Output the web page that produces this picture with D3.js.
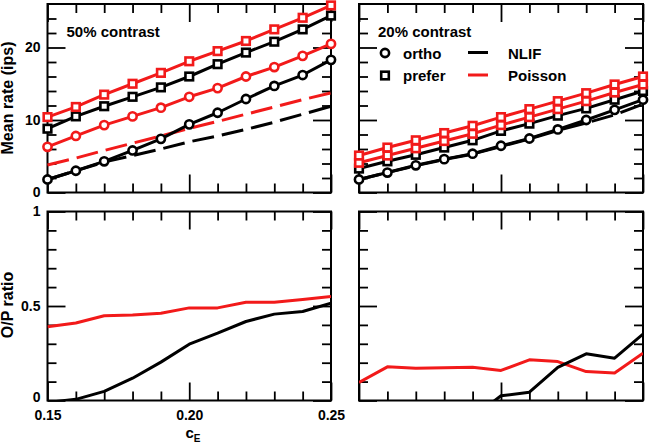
<!DOCTYPE html>
<html><head><meta charset="utf-8">
<script src="https://cdn.jsdelivr.net/npm/d3@7"></script>
<style>
html,body{margin:0;padding:0;background:#fff;}
svg{display:block;font-family:"Liberation Sans",Arial,Helvetica,sans-serif;font-weight:bold;}
</style></head>
<body><svg id="chart" width="649" height="444"></svg>
<script>
// ---------------- data ----------------
const cE = [0.15, 0.16, 0.17, 0.18, 0.19, 0.20, 0.21, 0.22, 0.23, 0.24, 0.25];

// 50% contrast, mean rate (ips)
const nlifOrtho50  = [1.8, 3.0, 4.3, 5.8, 7.4, 9.4, 11.0, 12.9, 14.7, 16.2, 18.3];
const nlifPrefer50 = [8.8, 10.5, 11.9, 13.2, 14.5, 16.0, 17.7, 19.3, 20.8, 22.5, 24.4];
const poisOrtho50  = [6.3, 7.8, 9.3, 10.5, 11.7, 13.2, 14.4, 16.0, 17.3, 18.85, 20.5];
const poisPrefer50 = [10.4, 11.8, 13.5, 15.0, 16.5, 18.1, 19.5, 20.9, 22.5, 24.1, 25.8];
const nlifDash50   = [1.8, 3.0, 4.2, 5.1, 6.0, 7.0, 7.8, 8.7, 9.7, 10.8, 11.9];
const poisDash50   = [3.8, 4.75, 5.8, 6.8, 7.8, 8.85, 9.8, 10.8, 11.8, 12.8, 13.75];

// 20% contrast, mean rate (ips)
const nlifOrtho20  = [1.8, 2.75, 3.75, 4.6, 5.35, 6.45, 7.45, 8.7, 10.0, 11.4, 12.8];
const nlifPrefer20 = [3.3, 4.3, 5.2, 6.2, 7.2, 8.5, 9.5, 10.6, 11.6, 12.8, 14.0];
const poisOrtho20  = [4.1, 5.1, 6.1, 7.1, 8.1, 9.3, 10.4, 11.5, 12.6, 13.8, 14.9];
const poisPrefer20 = [5.1, 6.2, 7.2, 8.2, 9.2, 10.4, 11.5, 12.6, 13.7, 14.9, 16.0];
const nlifDash20   = [1.8, 2.75, 3.7, 4.55, 5.3, 6.35, 7.4, 8.55, 9.6, 10.7, 12.2];

// O/P ratio
const ratioPois50 = [0.39, 0.41, 0.448, 0.453, 0.462, 0.49, 0.49, 0.52, 0.52, 0.534, 0.55];
const ratioNlif50 = [-0.01, 0.006, 0.048, 0.118, 0.203, 0.298, 0.356, 0.418, 0.457, 0.471, 0.515];
const ratioPois20 = [0.095, 0.178, 0.171, 0.173, 0.176, 0.159, 0.215, 0.206, 0.153, 0.145, 0.25];
const ratioNlif20 = [null, null, null, null, -0.09, 0.025, 0.044, 0.175, 0.247, 0.224, 0.351];

// ticks / labels
const xMajor = [0.15, 0.20, 0.25];
const xMajorLabels = ["0.15", "0.20", "0.25"];
const xMinor = [0.16, 0.17, 0.18, 0.19, 0.21, 0.22, 0.23, 0.24];
const rateMajor = [0, 10, 20];
const rateMajorLabels = ["0", "10", "20"];
const rateMinor = [2, 4, 6, 8, 12, 14, 16, 18, 22, 24];
const ratioMajor = [0, 0.5, 1];
const ratioMajorLabels = ["0", "0.5", "1"];
const ratioMinor = [0.1, 0.2, 0.3, 0.4, 0.6, 0.7, 0.8, 0.9];

const panelTitles = ["50% contrast", "20% contrast"];
const legendMarkers = ["ortho", "prefer"];
const legendLines = ["NLIF", "Poisson"];

// ---------------- layout ----------------
const RED = "#f21a1a", BLK = "#000";
const colsX = [[47.5, 331], [359, 643]];
const rowsY = [[4, 192.5], [211.5, 400.5]];
const svg = d3.select("#chart");

function makeX(c){ return d3.scaleLinear().domain([0.15, 0.25]).range(colsX[c]); }
const yRate = d3.scaleLinear().domain([0, 26]).range([rowsY[0][1], rowsY[0][0]]);
const yRatio = d3.scaleLinear().domain([0, 1]).range([rowsY[1][1], rowsY[1][0]]);

function styleAxis(g, size){
  g.select(".domain").remove();
  g.selectAll("line").attr("stroke", "#000").attr("stroke-width", 1.8);
  g.selectAll("text").attr("font-size", size).attr("font-weight", "bold")
    .attr("font-family", '"Liberation Sans", Arial, sans-serif').attr("fill", "#000");
  g.attr("font-family", null).attr("font-size", null);
}

function frame(c, r, y, yMaj, yMin, yLabels, xLabels){
  const x = makeX(c);
  const [x0, x1] = colsX[c], [y0, y1] = rowsY[r];
  const g = svg.append("g");
  // x ticks bottom/top
  [[d3.axisBottom, y1], [d3.axisTop, y0]].forEach(([ax, yy]) => {
    g.append("g").attr("transform", `translate(0,${yy})`)
      .call(ax(x).tickValues(xMinor).tickSize(-9).tickFormat(""))
      .call(s => styleAxis(s, 14));
    const showLab = xLabels && ax === d3.axisBottom;
    g.append("g").attr("transform", `translate(0,${yy})`)
      .call(ax(x).tickValues(xMajor).tickSize(-18).tickPadding(10)
        .tickFormat(showLab ? ((d, i) => xMajorLabels[i]) : ""))
      .call(s => styleAxis(s, 14));
  });
  // y ticks left/right
  [[d3.axisLeft, x0], [d3.axisRight, x1]].forEach(([ax, xx]) => {
    g.append("g").attr("transform", `translate(${xx},0)`)
      .call(ax(y).tickValues(yMin).tickSize(-9).tickFormat(""))
      .call(s => styleAxis(s, 14));
    const showLab = yLabels && ax === d3.axisLeft;
    const ga = g.append("g").attr("transform", `translate(${xx},0)`)
      .call(ax(y).tickValues(yMaj).tickSize(-18).tickPadding(7)
        .tickFormat(showLab ? ((d, i) => yLabels[i]) : ""))
      .call(s => styleAxis(s, 14));
    if (showLab && xLabels) {
      // lift the bottom "0" slightly so it does not touch the x labels
      ga.selectAll(".tick").filter(d => d === 0).select("text").attr("y", -3);
    }
  });
  g.append("rect").attr("x", x0).attr("y", y0).attr("width", x1 - x0).attr("height", y1 - y0)
    .attr("fill", "none").attr("stroke", "#000").attr("stroke-width", 2);
  // clip
  svg.append("clipPath").attr("id", `clip${c}${r}`).append("rect")
    .attr("x", x0).attr("y", y0).attr("width", x1 - x0).attr("height", y1 - y0);
  return x;
}

function drawLine(x, y, vals, color, dashed, clipId){
  const pts = cE.map((d, i) => [d, vals[i]]);
  const line = d3.line().defined(d => d[1] != null).x(d => x(d[0])).y(d => y(d[1]));
  const p = svg.append("path").datum(pts).attr("d", line)
    .attr("fill", "none").attr("stroke", color).attr("stroke-width", 3)
    .attr("stroke-linejoin", "round");
  if (dashed) p.attr("stroke-dasharray", "22,8");
  if (clipId) p.attr("clip-path", `url(#${clipId})`);
}

function drawMarkers(x, y, vals, color, shape){
  const g = svg.append("g");
  cE.forEach((d, i) => {
    const cx = x(d), cy = y(vals[i]);
    if (shape === "circle") {
      g.append("circle").attr("cx", cx).attr("cy", cy).attr("r", 4.1)
        .attr("fill", "#fff").attr("stroke", color).attr("stroke-width", 2.6);
    } else {
      g.append("rect").attr("x", cx - 3.8).attr("y", cy - 3.8).attr("width", 7.6).attr("height", 7.6)
        .attr("fill", "#fff").attr("stroke", color).attr("stroke-width", 2.6);
    }
  });
}

// ---------------- top-left: 50% contrast ----------------
{
  const x = frame(0, 0, yRate, rateMajor, rateMinor, rateMajorLabels, null);
  drawLine(x, yRate, nlifDash50, BLK, true);
  drawLine(x, yRate, poisDash50, RED, true);
  [[nlifOrtho50, BLK, "circle"], [poisOrtho50, RED, "circle"],
   [nlifPrefer50, BLK, "square"], [poisPrefer50, RED, "square"]].forEach(([v, col, sh]) => {
    drawLine(x, yRate, v, col, false);
    drawMarkers(x, yRate, v, col, sh);
  });
  svg.append("text").attr("x", 66.5).attr("y", 36.5).attr("font-size", 15).text(panelTitles[0]);
}

// ---------------- top-right: 20% contrast ----------------
{
  const x = frame(1, 0, yRate, rateMajor, rateMinor, null, null);
  drawLine(x, yRate, nlifDash20, BLK, true);
  [[nlifOrtho20, BLK, "circle"], [nlifPrefer20, BLK, "square"],
   [poisOrtho20, RED, "square"], [poisPrefer20, RED, "square"]].forEach(([v, col, sh]) => {
    drawLine(x, yRate, v, col, false);
    drawMarkers(x, yRate, v, col, sh);
  });
  svg.append("text").attr("x", 378).attr("y", 36.5).attr("font-size", 15).text(panelTitles[1]);
  // legend
  const lg = svg.append("g").attr("font-size", 15);
  lg.append("circle").attr("cx", 385).attr("cy", 53).attr("r", 4.1)
    .attr("fill", "#fff").attr("stroke", BLK).attr("stroke-width", 2.6);
  lg.append("rect").attr("x", 385 - 3.8).attr("y", 75.5 - 3.8).attr("width", 7.6).attr("height", 7.6)
    .attr("fill", "#fff").attr("stroke", BLK).attr("stroke-width", 2.6);
  lg.append("text").attr("x", 403).attr("y", 58.5).text(legendMarkers[0]);
  lg.append("text").attr("x", 403).attr("y", 80.5).text(legendMarkers[1]);
  lg.append("line").attr("x1", 468).attr("x2", 488).attr("y1", 52.5).attr("y2", 52.5)
    .attr("stroke", BLK).attr("stroke-width", 3);
  lg.append("line").attr("x1", 468).attr("x2", 488).attr("y1", 75).attr("y2", 75)
    .attr("stroke", RED).attr("stroke-width", 3);
  lg.append("text").attr("x", 508).attr("y", 58.5).text(legendLines[0]);
  lg.append("text").attr("x", 508).attr("y", 80.5).text(legendLines[1]);
}

// ---------------- bottom-left ----------------
{
  const x = frame(0, 1, yRatio, ratioMajor, ratioMinor, ratioMajorLabels, xMajorLabels);
  drawLine(x, yRatio, ratioPois50, RED, false, "clip01");
  drawLine(x, yRatio, ratioNlif50, BLK, false, "clip01");
}
// ---------------- bottom-right ----------------
{
  const x = frame(1, 1, yRatio, ratioMajor, ratioMinor, null, null);
  drawLine(x, yRatio, ratioPois20, RED, false, "clip11");
  drawLine(x, yRatio, ratioNlif20, BLK, false, "clip11");
}

// ---------------- axis titles ----------------
svg.append("text").attr("transform", "translate(13,98) rotate(-90)")
  .attr("text-anchor", "middle").attr("font-size", 16).text("Mean rate (ips)");
svg.append("text").attr("transform", "translate(13,305) rotate(-90)")
  .attr("text-anchor", "middle").attr("font-size", 16).text("O/P ratio");
const xt = svg.append("text").attr("x", 185.5).attr("y", 438).attr("font-size", 15);
xt.append("tspan").text("c");
xt.append("tspan").attr("font-size", 10).attr("dy", 4).text("E");
</script>
</body></html>
